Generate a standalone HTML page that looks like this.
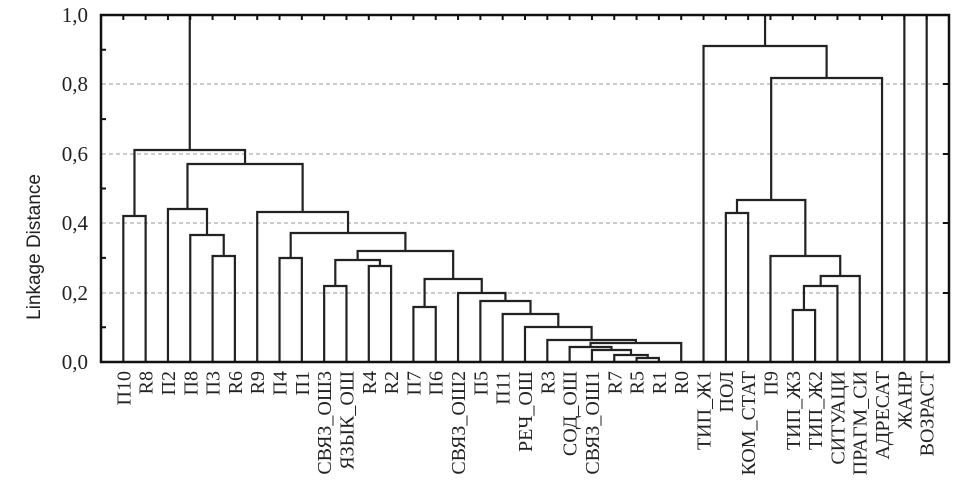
<!DOCTYPE html>
<html><head><meta charset="utf-8"><style>body{margin:0;background:#fff}svg{display:block}.sf{font-family:"Liberation Serif","DejaVu Serif",serif}</style></head><body>
<svg id="s" width="963" height="495" xmlns="http://www.w3.org/2000/svg">
<g stroke="#bbb" stroke-width="1.5" stroke-dasharray="4,3">
<line x1="102" y1="293" x2="948" y2="293"/><line x1="102" y1="223" x2="948" y2="223"/>
<line x1="102" y1="154" x2="948" y2="154"/><line x1="102" y1="84" x2="948" y2="84"/>
</g>
<path id="d" fill="none" stroke="#222" stroke-width="2.2"/>
<g id="lbl" class="sf" font-size="20" fill="#222" text-anchor="end"></g>
<rect x="101" y="15" width="848" height="347" fill="none" stroke="#111" stroke-width="2.5"/>
<g class="sf" font-size="21" fill="#222" text-anchor="end">
<text x="88" y="22">1,0</text><text x="88" y="91">0,8</text><text x="88" y="161">0,6</text>
<text x="88" y="230">0,4</text><text x="88" y="300">0,2</text><text x="88" y="369">0,0</text>
</g>
<text transform="translate(40,247) rotate(-90)" text-anchor="middle" style="font-family:'Liberation Sans',sans-serif" font-size="19" fill="#222">Linkage Distance</text>
<path id="ticks" fill="none" stroke="#111" stroke-width="2"/>
<script>
var L=["П10","R8","П2","П8","П3","R6","R9","П4","П1","СВЯЗ_ОШ3","ЯЗЫК_ОШ","R4","R2","П7","П6","СВЯЗ_ОШ2","П5","П11","РЕЧ_ОШ","R3","СОД_ОШ","СВЯЗ_ОШ1","R7","R5","R1","R0","ТИП_Ж1","ПОЛ","КОМ_СТАТ","П9","ТИП_Ж3","ТИП_Ж2","СИТУАЦИ","ПРАГМ_СИ","АДРЕСАТ","ЖАНР","ВОЗРАСТ"];
var X=function(i){return 101+(i+1)*848/38;};
var g=document.getElementById("lbl"),tk="";
L.forEach(function(s,i){var x=X(i);var t=document.createElementNS("http://www.w3.org/2000/svg","text");
t.setAttribute("transform","translate("+(x+7)+",371) rotate(-90)");t.textContent=s;g.appendChild(t);
tk+="M"+x+" 15V20";});
for(var k=1;k<10;k+=2){var y=362-k*34.7;tk+="M101 "+y+"H106";}
[84,154,223,293].forEach(function(y){tk+="M943 "+y+"H949";});
document.getElementById("ticks").setAttribute("d",tk);
var p="";
function leaf(i){return {x:X(i),y:362};}
function j(a,b,y){p+="M"+a.x+" "+a.y+"V"+y+"H"+b.x+"V"+b.y;return {x:(a.x+b.x)/2,y:y};}
var A=j(leaf(0),leaf(1),216);
var B=j(leaf(4),leaf(5),256);B=j(leaf(3),B,235);B=j(leaf(2),B,209);
var C=j(leaf(7),leaf(8),258);
var D=j(leaf(9),leaf(10),286);var E=j(leaf(11),leaf(12),266);D=j(D,E,260);
var F=j(leaf(23),leaf(24),358);F=j(leaf(22),F,355);F=j(leaf(21),F,350);F=j(leaf(20),F,347);F=j(F,leaf(25),343);
F=j(leaf(19),F,340);F=j(leaf(18),F,327);F=j(leaf(17),F,314);F=j(leaf(16),F,301);F=j(leaf(15),F,293);
var G=j(leaf(13),leaf(14),307);F=j(G,F,279);
D=j(D,F,251);C=j(C,D,233);C=j(leaf(6),C,212);B=j(B,C,164);A=j(A,B,150);
p+="M"+A.x+" "+A.y+"V15";
var R=j(leaf(30),leaf(31),310);R=j(R,leaf(32),286);R=j(R,leaf(33),276);R=j(leaf(29),R,256);
var P=j(leaf(27),leaf(28),213);R=j(P,R,200);R=j(R,leaf(34),78);R=j(leaf(26),R,46);
p+="M"+R.x+" "+R.y+"V15";
p+="M"+X(35)+" 362V15M"+X(36)+" 362V15";
document.getElementById("d").setAttribute("d",p);
</script>
</svg>
</body></html>
